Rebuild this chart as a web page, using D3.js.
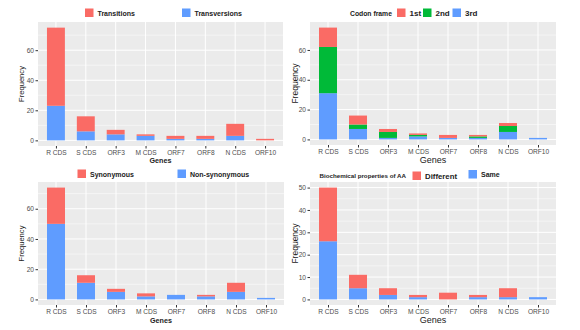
<!DOCTYPE html>
<html>
<head>
<meta charset="utf-8">
<script src="https://cdn.jsdelivr.net/npm/d3@7"></script>
<style>
  body { margin: 0; background: #fff; }
  svg { font-family: "Liberation Sans", Arial, sans-serif; }
</style>
</head>
<body>
<svg id="chart" width="580" height="330"></svg>
<script>
const genes = ["R CDS", "S CDS", "ORF3", "M CDS", "ORF7", "ORF8", "N CDS", "ORF10"];

// panel 1: transitions / transversions
const transitions = [52, 10, 3, 1, 2, 2, 8, 1];
const transversions = [23, 6, 4, 3, 1, 1, 3, 0];

// panel 2: codon frame
const frame1st = [13, 6, 2, 1, 2, 1, 2, 0];
const frame2nd = [31, 3, 4, 1, 0, 1, 4, 0];
const frame3rd = [31, 7, 1, 2, 1, 1, 5, 1];

// panel 3: synonymous / non-synonymous
const synonymous = [24, 5, 2, 2, 0, 1, 6, 0];
const nonSynonymous = [50, 11, 5, 2, 3, 2, 5, 1];

// panel 4: biochemical properties of AA
const aaDifferent = [24, 6, 3, 1, 3, 1, 4, 0];
const aaSame = [26, 5, 2, 1, 0, 1, 1, 1];

const ticks60 = [0, 20, 40, 60];
const ticks50 = [0, 10, 20, 30, 40, 50];

const RED = "#FA6B65", GREEN = "#00BA38", BLUE = "#5F9CFF";

const svg = d3.select("#chart");

function drawPanel(cfg) {
	const g = svg.append("g");
	const [x0, x1] = cfg.xr;
	const [yTop, yBot] = cfg.yr;

	// series are listed bottom -> top
	const totals = genes.map((_, i) => d3.sum(cfg.series, s => s.values[i]));
	const maxV = d3.max(totals);

	const x = d3.scalePoint().domain(genes).range([x0, x1]).padding(0.6);
	const y = d3.scaleLinear().domain([-0.05 * maxV, 1.05 * maxV]).range([yBot, yTop]);
	const barW = x.step() * 0.6;

	g.append("rect")
		.attr("x", x0).attr("y", yTop)
		.attr("width", x1 - x0).attr("height", yBot - yTop)
		.attr("fill", "#EBEBEB");

	// minor grid
	const step = cfg.ticks[1] - cfg.ticks[0];
	const minor = [];
	for (let v = step / 2; v < 1.05 * maxV; v += step) minor.push(v);
	g.selectAll(".minor").data(minor).enter().append("line")
		.attr("x1", x0).attr("x2", x1)
		.attr("y1", d => y(d)).attr("y2", d => y(d))
		.attr("stroke", "#fff").attr("stroke-width", 0.5);

	// major grid
	g.selectAll(".hmaj").data(cfg.ticks).enter().append("line")
		.attr("x1", x0).attr("x2", x1)
		.attr("y1", d => y(d)).attr("y2", d => y(d))
		.attr("stroke", "#fff").attr("stroke-width", 1);
	g.selectAll(".vmaj").data(genes).enter().append("line")
		.attr("x1", d => x(d)).attr("x2", d => x(d))
		.attr("y1", yTop).attr("y2", yBot)
		.attr("stroke", "#fff").attr("stroke-width", 1);

	// stacked bars
	const stack = d3.stack().keys(cfg.series.map((s, k) => k))
		.value((d, k) => cfg.series[k].values[d]);
	const layers = stack(d3.range(genes.length));
	layers.forEach((layer, k) => {
		g.selectAll(null).data(layer).enter().append("rect")
			.attr("x", (d, i) => x(genes[i]) - barW / 2)
			.attr("width", barW)
			.attr("y", d => y(d[1]))
			.attr("height", d => y(d[0]) - y(d[1]))
			.attr("fill", cfg.series[k].color);
	});

	// axes
	const xAxis = d3.axisBottom(x).tickSize(2.5).tickPadding(1.5);
	const gx = g.append("g").attr("transform", `translate(0,${yBot})`).call(xAxis);
	const yAxis = d3.axisLeft(y).tickValues(cfg.ticks).tickSize(2.5).tickPadding(1.5);
	const gy = g.append("g").attr("transform", `translate(${x0},0)`).call(yAxis);
	[gx, gy].forEach(a => {
		a.select(".domain").remove();
		a.selectAll(".tick line").attr("stroke", "#333");
		a.selectAll(".tick text").attr("fill", "#4D4D4D").style("font-size", "6.6px");
	});

	g.append("text")
		.attr("x", (x0 + x1) / 2).attr("y", cfg.genesY)
		.attr("text-anchor", "middle")
		.style("font-size", cfg.titleSize + "px")
		.style("font-weight", cfg.titleBold ? "bold" : "normal")
		.attr("fill", "#222")
		.text("Genes");
	g.append("text")
		.attr("transform", `translate(${cfg.freqX},${(yTop + yBot) / 2}) rotate(-90)`)
		.attr("text-anchor", "middle")
		.style("font-size", cfg.freqSize + "px")
		.attr("fill", "#222")
		.text("Frequency");

	// legend
	const lg = g.append("g");
	if (cfg.legendTitle) {
		lg.append("text")
			.attr("x", cfg.legendTitle.x).attr("y", cfg.legendTitle.y)
			.style("font-size", cfg.legendTitle.size + "px")
			.style("font-weight", "bold").attr("fill", "#222")
			.text(cfg.legendTitle.text);
	}
	cfg.legend.forEach(item => {
		lg.append("rect")
			.attr("x", item.x).attr("y", item.y)
			.attr("width", 8.5).attr("height", 8.5)
			.attr("fill", item.color);
		lg.append("text")
			.attr("x", item.x + 12.5).attr("y", item.y + 7)
			.style("font-size", item.size + "px")
			.style("font-weight", "bold").attr("fill", "#222")
			.text(item.text);
	});
}

drawPanel({
	xr: [38, 283], yr: [22, 146], ticks: ticks60,
	series: [{ values: transversions, color: BLUE }, { values: transitions, color: RED }],
	genesY: 162.5, titleSize: 7.2, titleBold: true, freqX: 24, freqSize: 7.6,
	legend: [
		{ text: "Transitions", color: RED, x: 85, y: 8.5, size: 7 },
		{ text: "Transversions", color: BLUE, x: 182, y: 8.5, size: 7 }
	]
});

drawPanel({
	xr: [310, 556], yr: [22, 145], ticks: ticks60,
	series: [{ values: frame3rd, color: BLUE }, { values: frame2nd, color: GREEN }, { values: frame1st, color: RED }],
	genesY: 162.5, titleSize: 9, titleBold: false, freqX: 297.5, freqSize: 8.5,
	legendTitle: { text: "Codon frame", x: 350, y: 15.5, size: 6.8 },
	legend: [
		{ text: "1st", color: RED, x: 397, y: 8.5, size: 8 },
		{ text: "2nd", color: GREEN, x: 423, y: 8.5, size: 8 },
		{ text: "3rd", color: BLUE, x: 452.5, y: 8.5, size: 8 }
	]
});

drawPanel({
	xr: [38, 284], yr: [182, 305], ticks: ticks60,
	series: [{ values: nonSynonymous, color: BLUE }, { values: synonymous, color: RED }],
	genesY: 322.5, titleSize: 7.2, titleBold: true, freqX: 24, freqSize: 7.6,
	legend: [
		{ text: "Synonymous", color: RED, x: 77.5, y: 169.5, size: 7 },
		{ text: "Non-synonymous", color: BLUE, x: 177.5, y: 169.5, size: 7 }
	]
});

drawPanel({
	xr: [310, 556], yr: [182, 305], ticks: ticks50,
	series: [{ values: aaSame, color: BLUE }, { values: aaDifferent, color: RED }],
	genesY: 323, titleSize: 9, titleBold: false, freqX: 297.5, freqSize: 8.5,
	legendTitle: { text: "Biochemical properties of AA", x: 319.5, y: 178, size: 6.2 },
	legend: [
		{ text: "Different", color: RED, x: 412.5, y: 171.5, size: 7.8 },
		{ text: "Same", color: BLUE, x: 468.5, y: 170, size: 7 }
	]
});
</script>
</body>
</html>
